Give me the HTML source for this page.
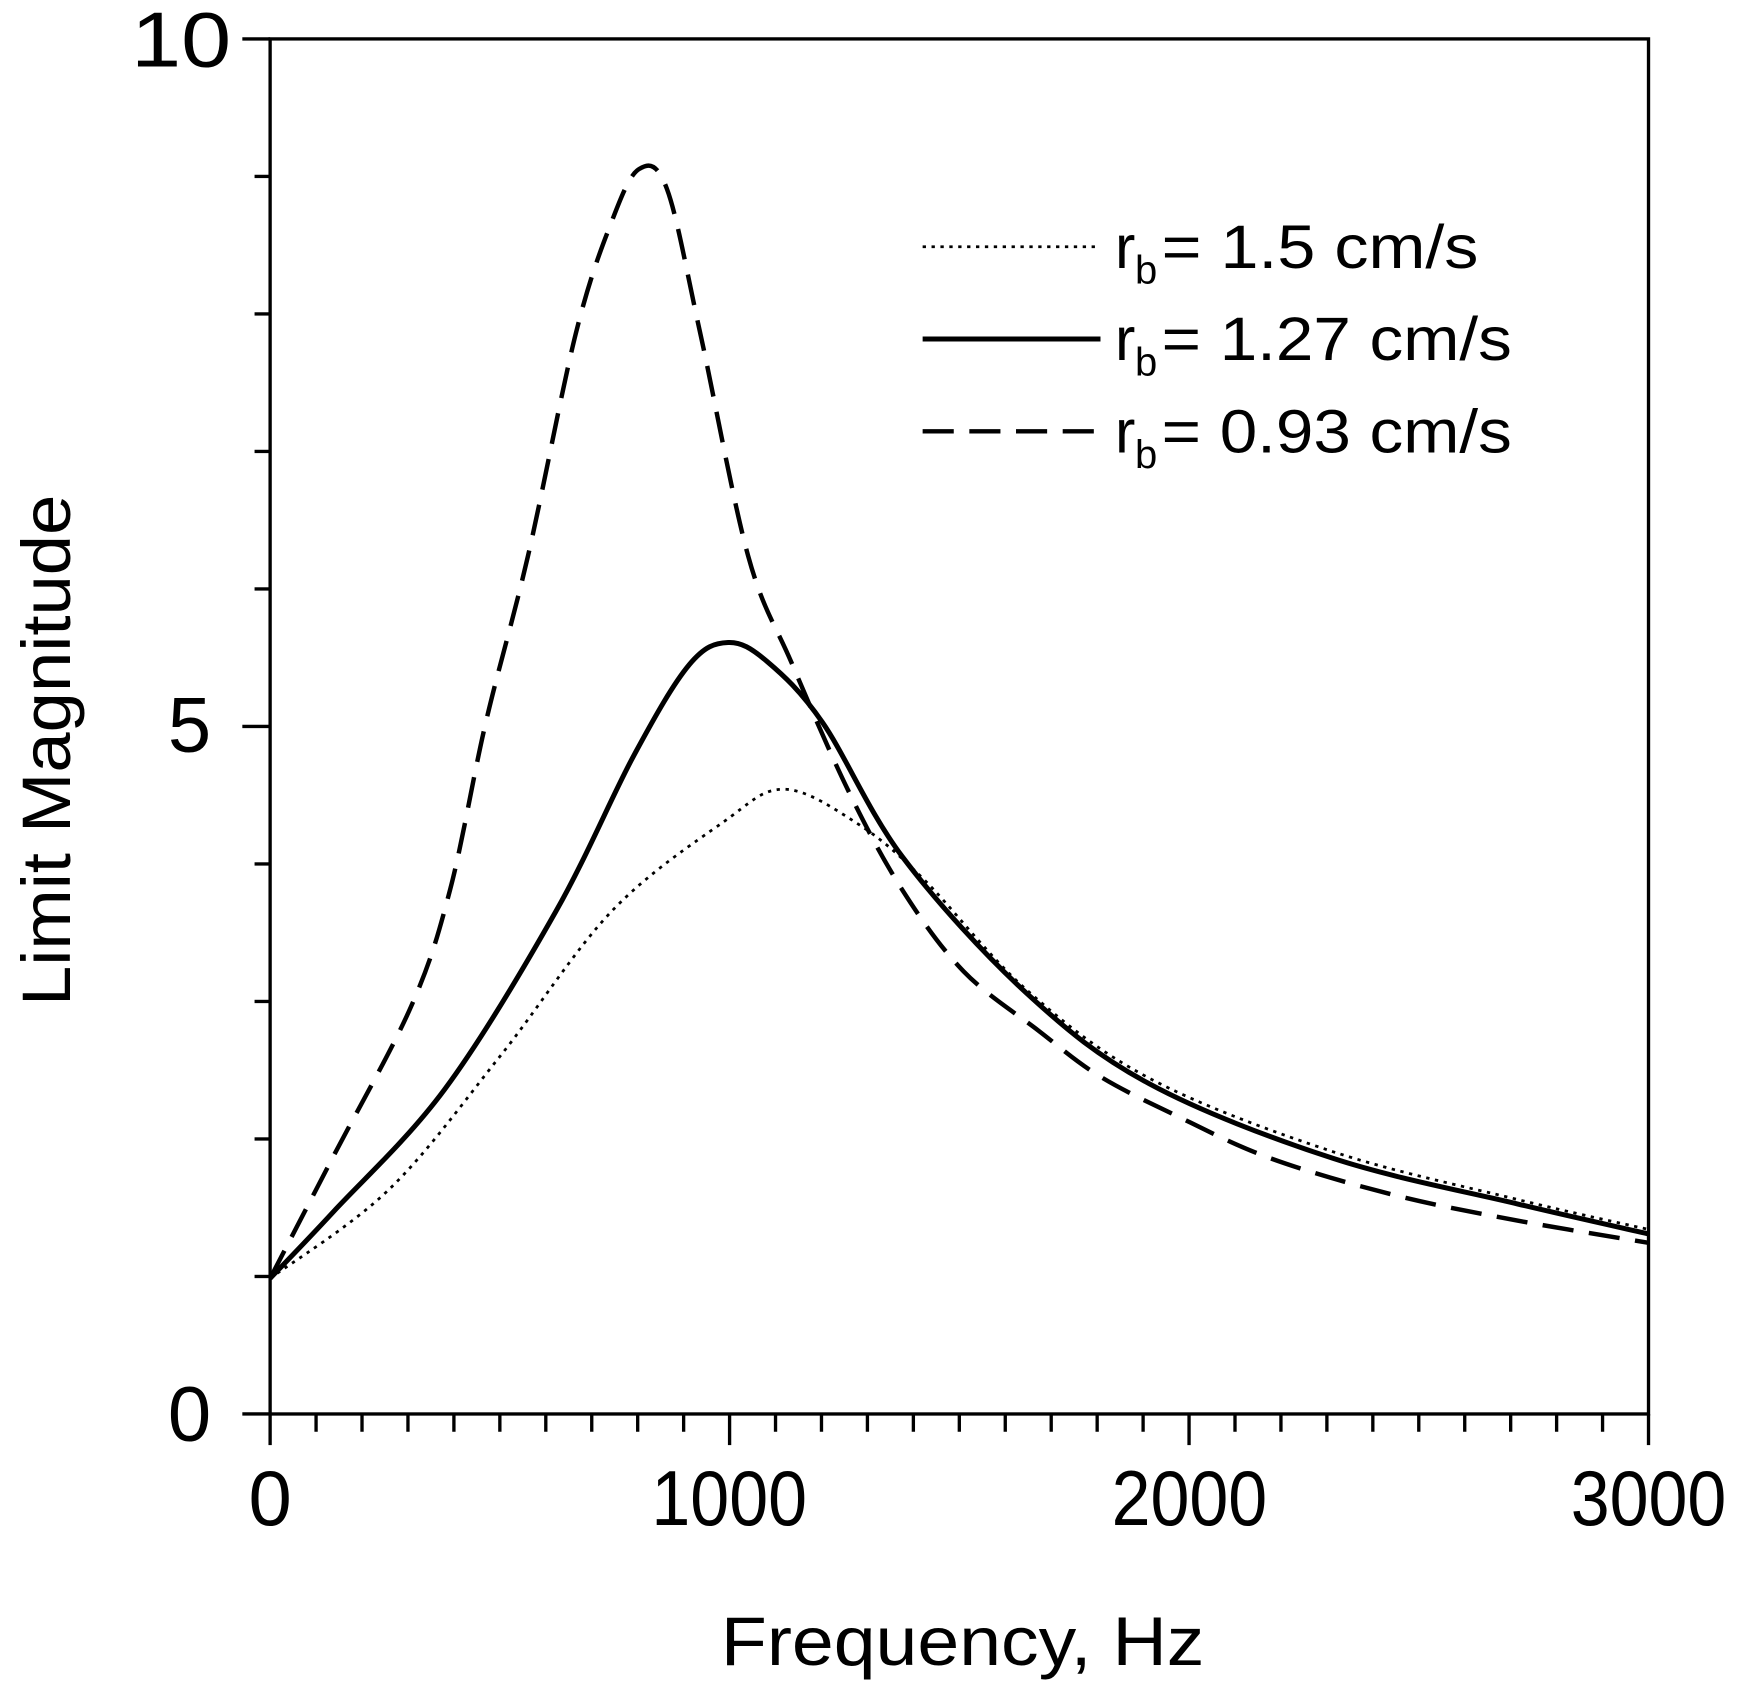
<!DOCTYPE html>
<html><head><meta charset="utf-8"><style>html,body{margin:0;padding:0;background:#fff}svg{display:block}</style></head>
<body>
<svg id="s" width="1743" height="1693" viewBox="0 0 1568 1523" xmlns="http://www.w3.org/2000/svg" font-family="Liberation Sans, sans-serif">
<rect width="1568" height="1523" fill="#fff"/>
<g id="ticks" stroke="#000" stroke-width="3"></g>
<rect x="243" y="35" width="1240" height="1237" fill="none" stroke="#000" stroke-width="3"/>
<g font-size="70" text-anchor="middle" fill="#000">
<text x="243" y="1372">0</text>
<text x="656" y="1372" textLength="140" lengthAdjust="spacingAndGlyphs">1000</text>
<text x="1070" y="1372" textLength="140" lengthAdjust="spacingAndGlyphs">2000</text>
<text x="1483" y="1372" textLength="140" lengthAdjust="spacingAndGlyphs">3000</text>
</g>
<g font-size="70" fill="#000">
<text x="118" y="60" textLength="90" lengthAdjust="spacingAndGlyphs">10</text>
<text x="190" y="676" text-anchor="end">5</text>
<text x="190" y="1296" text-anchor="end">0</text>
</g>
<text x="866" y="1498" font-size="62" text-anchor="middle" textLength="435" lengthAdjust="spacingAndGlyphs">Frequency, Hz</text>
<text transform="translate(63,675) rotate(-90)" font-size="62" text-anchor="middle" textLength="460" lengthAdjust="spacingAndGlyphs">Limit Magnitude</text>
<g id="curves" fill="none" stroke="#000"></g>
<g stroke="#000" fill="none">
<line x1="830" y1="222" x2="990" y2="222" stroke-width="2.5" stroke-dasharray="3,5"/>
<line x1="830" y1="305" x2="990" y2="305" stroke-width="4.5"/>
<line x1="830" y1="388" x2="990" y2="388" stroke-width="4" stroke-dasharray="28,14"/>
</g>
<g font-size="55" fill="#000">
<text x="1003" y="241">r</text><text x="1021" y="255" font-size="36">b</text><text x="1045" y="241" textLength="285" lengthAdjust="spacingAndGlyphs">= 1.5 cm/s</text>
<text x="1003" y="324">r</text><text x="1021" y="338" font-size="36">b</text><text x="1045" y="324" textLength="315" lengthAdjust="spacingAndGlyphs">= 1.27 cm/s</text>
<text x="1003" y="407">r</text><text x="1021" y="421" font-size="36">b</text><text x="1045" y="407" textLength="315" lengthAdjust="spacingAndGlyphs">= 0.93 cm/s</text>
</g>
</svg>
<script>
var NS="http://www.w3.org/2000/svg";
function el(p,t,a){var e=document.createElementNS(NS,t);for(var k in a)e.setAttribute(k,a[k]);p.appendChild(e);return e;}
var tk=document.getElementById("ticks");
for(var i=0;i<=30;i++){var x=243+i*1240/30;var L=(i%10==0)?28:16;el(tk,"line",{x1:x,y1:1272,x2:x,y2:1272+L});}
for(var j=0;j<=10;j++){var y=1272-j*123.7;var L=(j%5==0)?25:14;el(tk,"line",{x1:243-L,y1:y,x2:243,y2:y});}
function cr(p){var d="M"+p[0][0]+","+p[0][1];for(var i=0;i<p.length-1;i++){var p0=p[Math.max(i-1,0)],p1=p[i],p2=p[i+1],p3=p[Math.min(i+2,p.length-1)];
d+=" C"+(p1[0]+(p2[0]-p0[0])/6)+","+(p1[1]+(p2[1]-p0[1])/6)+" "+(p2[0]-(p3[0]-p1[0])/6)+","+(p2[1]-(p3[1]-p1[1])/6)+" "+p2[0]+","+p2[1];}return d;}
var cv=document.getElementById("curves");
var dashed=[[243,1150],[300,1040],[370,905],[405,800],[437,650],[475,500],[518,300],[550,200],[575,152],[600,170],[630,300],[673,500],[712,596],[763,711],[812,801],[867,874],[934,927],[989,968],[1061,1005],[1143,1042],[1254,1075],[1365,1098],[1483,1118]];
var solid=[[243,1150],[300,1090],[400,980],[500,820],[570,680],[620,598],[655,578],[690,595],[740,650],[812,771],[923,893],[1034,975],[1199,1042],[1365,1083],[1483,1110]];
var dotted=[[243,1150],[350,1070],[450,950],[550,820],[650,740],[705,710],[770,740],[830,790],[923,890],[1034,970],[1199,1036],[1365,1079],[1483,1106]];
el(cv,"path",{d:cr(dotted),"stroke-width":2.5,"stroke-dasharray":"3,5"});
el(cv,"path",{d:cr(solid),"stroke-width":4.5});
el(cv,"path",{d:cr(dashed),"stroke-width":4,"stroke-dasharray":"28,14"});
</script>
</body></html>
